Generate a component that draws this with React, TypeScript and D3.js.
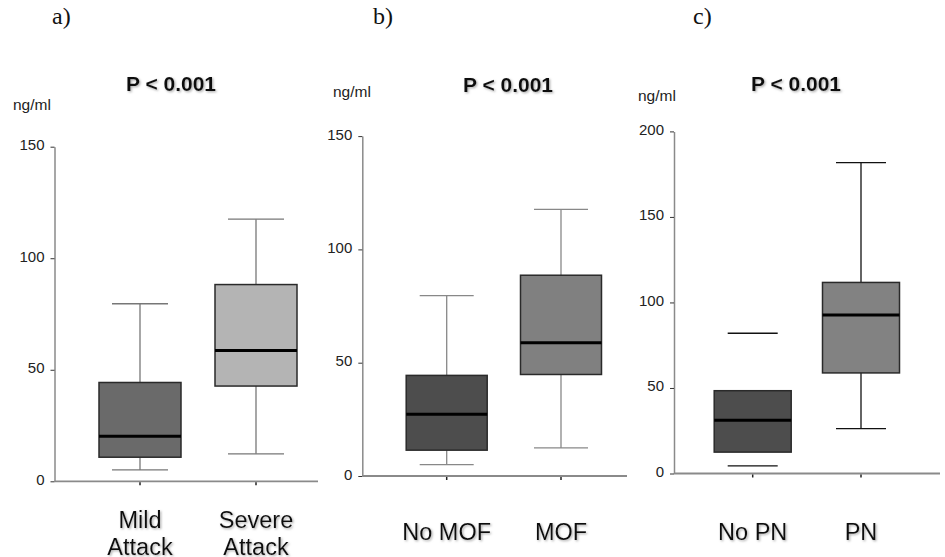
import { useEffect, useRef } from 'react';
import * as d3 from 'd3';

// panel a: attack severity, b: multi-organ failure, c: pancreatic necrosis
const panelLetters = ['a)', 'b)', 'c)'];
const pValues = ['P < 0.001', 'P < 0.001', 'P < 0.001'];
const unitLabel = 'ng/ml';

const groupsA = [['Mild', 'Attack'], ['Severe', 'Attack']];
const groupsB = [['No MOF'], ['MOF']];
const groupsC = [['No PN'], ['PN']];

// [low whisker, Q1, median, Q3, high whisker]
const boxesA = [[5.1, 10.8, 20.2, 44.3, 79.6], [12.3, 42.7, 58.6, 88.2, 117.5]];
const boxesB = [[5.0, 11.4, 27.3, 44.4, 79.6], [12.4, 44.8, 58.8, 88.6, 117.7]];
const boxesC = [[4.4, 12.5, 31.2, 48.4, 82.0], [26.2, 58.8, 92.6, 111.7, 181.7]];

const yTicksA = [0, 50, 100, 150];
const yTicksB = [0, 50, 100, 150];
const yTicksC = [0, 50, 100, 150, 200];

const panels = [
  { groups: groupsA, boxes: boxesA, ticks: yTicksA, yMax: 150 },
  { groups: groupsB, boxes: boxesB, ticks: yTicksB, yMax: 150 },
  { groups: groupsC, boxes: boxesC, ticks: yTicksC, yMax: 200 },
];

const layout = [
  { x0: 54.5, x1: 318, y0: 481.3, y1: 146.7, pts: [140, 256], boxW: 82, capW: 56, letterX: 52, unitX: 13, unitY: 110, pX: 171, pY: 91, labelY: 528, whisker: '#777', fills: ['#6a6a6a', '#b4b4b4'], stems: [true, true] },
  { x0: 362.3, x1: 627, y0: 476, y1: 136.1, pts: [446.7, 561], boxW: 81, capW: 54, letterX: 373, unitX: 333, unitY: 97, pX: 508, pY: 92, labelY: 540, whisker: '#888', fills: ['#4d4d4d', '#808080'], stems: [true, true] },
  { x0: 674, x1: 940, y0: 473.5, y1: 131.4, pts: [752.7, 861], boxW: 77, capW: 50, letterX: 693, unitX: 638, unitY: 101, pX: 796, pY: 91, labelY: 540, whisker: '#111', fills: ['#4d4d4d', '#828282'], stems: [false, true] },
];

const sans = '"Liberation Sans", Arial, sans-serif';

const App = () => {
  const svgRef = useRef<SVGSVGElement>(null);

  useEffect(() => {
    if (!svgRef.current) return;
    const svg = d3.select(svgRef.current);
    svg.selectAll('*').remove();

    const defs = svg.append('defs');
    const f = defs.append('filter').attr('id', 'shadow').attr('x', '-10%').attr('y', '-20%').attr('width', '130%').attr('height', '150%');
    f.append('feDropShadow').attr('dx', 1.2).attr('dy', 1.2).attr('stdDeviation', 0.9)
      .attr('flood-color', '#888').attr('flood-opacity', 0.7);

    panels.forEach((p, i) => {
      const L = layout[i];
      const keys = p.groups.map(g => g.join(' '));
      const y = d3.scaleLinear().domain([0, p.yMax]).range([L.y0, L.y1]);
      const x = d3.scalePoint<string>().domain(keys).range(L.pts as [number, number]);
      const g = svg.append('g');

      // y axis
      const yAxis = g.append('g')
        .attr('transform', `translate(${L.x0},0)`)
        .call(d3.axisLeft(y).tickValues(p.ticks).tickSize(4).tickSizeOuter(0).tickPadding(6).tickFormat(d3.format('d')));
      yAxis.select('.domain').attr('stroke', '#8a8a8a').attr('stroke-width', 1.5);
      yAxis.selectAll('.tick line').attr('stroke', '#333');
      yAxis.selectAll('.tick text').attr('dy', '0.2em').style('font-family', sans).style('font-size', '15px').attr('fill', '#222');

      // x axis
      g.append('line')
        .attr('x1', L.x0).attr('x2', L.x1).attr('y1', L.y0).attr('y2', L.y0)
        .attr('stroke', '#8a8a8a').attr('stroke-width', 1.8);
      g.selectAll('.xt').data(keys).enter().append('line')
        .attr('x1', d => x(d)!).attr('x2', d => x(d)!)
        .attr('y1', L.y0 + 1).attr('y2', L.y0 + 4)
        .attr('stroke', '#222').attr('stroke-width', 1.5);

      // boxes
      p.boxes.forEach((b, j) => {
        const cx = x(keys[j])!;
        const [lo, q1, med, q3, hi] = b;
        if (L.stems[j]) {
          g.append('line').attr('x1', cx).attr('x2', cx).attr('y1', y(hi)).attr('y2', y(q3)).attr('stroke', L.whisker).attr('stroke-width', 1.3);
          g.append('line').attr('x1', cx).attr('x2', cx).attr('y1', y(q1)).attr('y2', y(lo)).attr('stroke', L.whisker).attr('stroke-width', 1.3);
        }
        [hi, lo].forEach(v => {
          g.append('line')
            .attr('x1', cx - L.capW / 2).attr('x2', cx + L.capW / 2)
            .attr('y1', y(v)).attr('y2', y(v))
            .attr('stroke', L.whisker).attr('stroke-width', 1.3);
        });
        g.append('rect')
          .attr('x', cx - L.boxW / 2).attr('width', L.boxW)
          .attr('y', y(q3)).attr('height', y(q1) - y(q3))
          .attr('fill', L.fills[j]).attr('stroke', '#2a2a2a').attr('stroke-width', 1.5);
        g.append('line')
          .attr('x1', cx - L.boxW / 2).attr('x2', cx + L.boxW / 2)
          .attr('y1', y(med)).attr('y2', y(med))
          .attr('stroke', '#000').attr('stroke-width', 3);
      });

      // category labels
      p.groups.forEach((lines, j) => {
        const t = g.append('text')
          .attr('x', x(keys[j])!).attr('y', L.labelY)
          .attr('text-anchor', 'middle')
          .attr('filter', 'url(#shadow)')
          .style('font-family', sans).style('font-size', '23.5px').attr('fill', '#111');
        lines.forEach((ln, k) => {
          t.append('tspan').attr('x', x(keys[j])!).attr('dy', k === 0 ? 0 : 27).text(ln);
        });
      });

      // titles
      g.append('text')
        .attr('x', L.pX).attr('y', L.pY).attr('text-anchor', 'middle')
        .attr('filter', 'url(#shadow)')
        .style('font-family', sans).style('font-size', '21px').style('font-weight', 'bold').attr('fill', '#111')
        .text(pValues[i]);
      g.append('text')
        .attr('x', L.unitX).attr('y', L.unitY)
        .style('font-family', sans).style('font-size', '15.5px').attr('fill', '#222')
        .text(unitLabel);
      g.append('text')
        .attr('x', L.letterX).attr('y', 24)
        .style('font-family', '"Liberation Serif", "Times New Roman", serif').style('font-size', '24px').attr('fill', '#111')
        .text(panelLetters[i]);
    });
  }, []);

  return (
    <svg
      ref={svgRef}
      width={945}
      height={557}
      style={{ position: 'absolute', left: 0, top: 0, background: '#fff' }}
    />
  );
};

export default App;
